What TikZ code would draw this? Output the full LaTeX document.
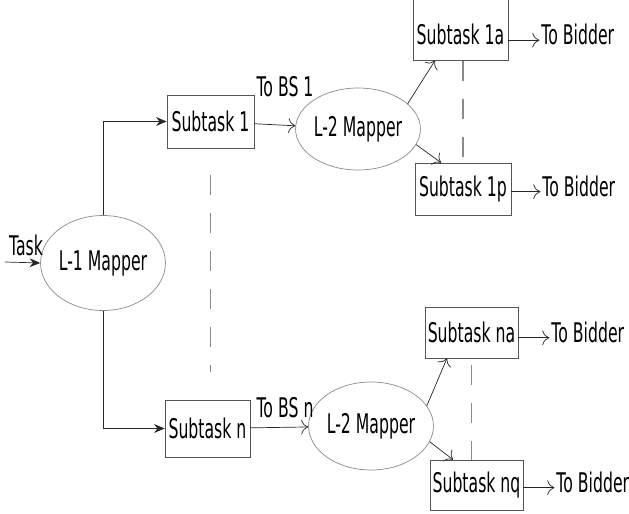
\documentclass[tikz,border=0pt]{standalone}
\usepackage{fontspec}
\setmainfont{DejaVu Sans}[FakeStretch=0.58]
\usetikzlibrary{arrows.meta, shapes, positioning}

\definecolor{linegray}{HTML}{8A8A8A}
\definecolor{boxgray}{HTML}{555555}

\tikzset{
  txt/.style={font=\fontsize{15.4}{17}\selectfont, inner sep=1pt},
  mapper/.style={txt, ellipse, draw=linegray, inner sep=0pt},
  taskbox/.style={txt, rectangle, draw=boxgray, minimum height=1.04cm},
  bidder/.style={txt},
  thin arrow/.style={->, >={To[length=4pt]}, black!85},
  feed/.style={-{Stealth[length=6pt,width=5pt]}, black!85},
  gap line/.style={linegray, line width=0.6pt, dash pattern=on 0.4cm off 0.36cm}
}

\begin{document}
\begin{tikzpicture}
      \useasboundingbox (0,0) rectangle (12.58,-10.28);
      % Level-1 mapper
      \node[mapper, minimum width=2.16cm, minimum height=1.9cm] (L1) at (2.06,-5.26) {L-1 Mapper};
      \coordinate (taskin) at (0.1,-5.24);
      \node[txt] (tasklbl) at (0.52,-4.9) {Task};
      \draw[feed] (taskin) -- (L1.west);
      % Subtasks
      \node[taskbox, minimum width=1.74cm, minimum height=1.06cm] (S1) at (4.21,-2.43) {Subtask 1};
      \node[taskbox, minimum width=1.70cm, minimum height=1.14cm] (Sn) at (4.15,-8.57) {Subtask n};
      \draw[feed] (L1.north) |- (S1.west);
      \draw[feed] (L1.south) |- (Sn.west);
      \draw[gap line] ([yshift=-0.54cm]S1.south) -- ([yshift=0.56cm]S1.south |- Sn.north);
      % Level-2 mappers
      \node[mapper, minimum width=2.14cm, minimum height=1.64cm] (L2a) at (7.16,-2.58) {L-2 Mapper};
      \node[mapper, minimum width=2.12cm, minimum height=1.76cm] (L2b) at (7.42,-8.52) {L-2 Mapper};
      \draw[thin arrow] (S1) -- (L2a);
      \draw[thin arrow] (Sn) -- (L2b);
      \node[txt] (bs1) at (5.7,-1.74) {To BS 1};
      \node[txt] (bsn) at (5.7,-8.16) {To BS n};
      % Subtasks of BS 1
      \node[taskbox, minimum width=1.9cm, text height=0.87cm, text depth=0.27cm] (S1a) at (9.21,-0.6) {Subtask 1a};
      \node[taskbox, minimum width=1.92cm] (S1p) at (9.26,-3.78) {Subtask 1p};
      \draw[thin arrow] (L2a.27) -- ([xshift=-0.51cm]S1a.south);
      \draw[thin arrow] (L2a.-15) -- ([xshift=-0.44cm]S1p.north);
      \draw[gap line] (S1p.north |- S1a.south) -- ([yshift=-0.12cm]S1p.north);
      % Subtasks of BS n
      \node[taskbox, minimum width=1.86cm, minimum height=1.02cm] (Sna) at (9.43,-6.65) {Subtask na};
      \node[taskbox, minimum width=1.86cm, minimum height=1.0cm] (Snq) at (9.53,-9.7) {Subtask nq};
      \draw[thin arrow] (L2b.20) -- ([xshift=-0.49cm]Sna.south);
      \draw[thin arrow] (L2b.-15) -- ([xshift=-0.47cm]Snq.north);
      \draw[gap line] ([yshift=-0.14cm]Sna.south) -- (Sna.south |- Snq.north);
      % Outputs
      \node[bidder, base right=0.62cm of S1a] (B1a) {To Bidder};
      \node[bidder, base right=0.58cm of S1p] (B1p) {To Bidder};
      \node[bidder, base right=0.62cm of Sna] (Bna) {To Bidder};
      \node[bidder, base right=0.62cm of Snq] (Bnq) {To Bidder};
      \foreach \src/\dst in {S1a/B1a, S1p/B1p, Sna/Bna, Snq/Bnq}
        \draw[thin arrow] (\src.mid east) -- (\dst.mid west);
    \end{tikzpicture}
\end{document}
